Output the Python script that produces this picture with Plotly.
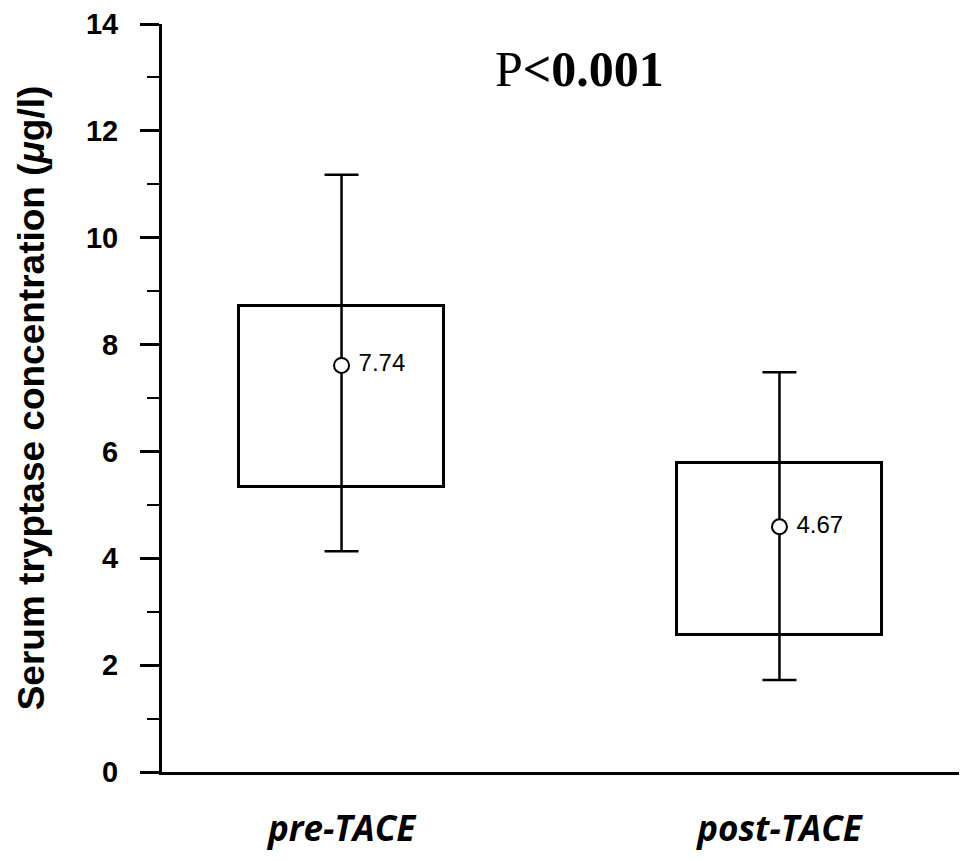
import plotly.graph_objects as go

# Data
categories = ["pre-TACE", "post-TACE"]
x_pos = [0, 1]
box_low = [5.34, 2.57]
box_high = [8.72, 5.79]
whisker_low = [4.13, 1.72]
whisker_high = [11.18, 7.48]
center = [7.61, 4.59]
center_labels = ["7.74", "4.67"]
y_ticks = [0, 2, 4, 6, 8, 10, 12, 14]

fig = go.Figure()

fig.add_trace(go.Bar(
    x=x_pos,
    y=[h - l for h, l in zip(box_high, box_low)],
    base=box_low,
    width=0.47,
    marker=dict(color="white", line=dict(color="black", width=3)),
    showlegend=False,
    hoverinfo="skip",
))

fig.add_trace(go.Scatter(
    x=x_pos,
    y=center,
    mode="markers+text",
    text=center_labels,
    texttemplate=" %{text}",
    textposition="middle right",
    textfont=dict(family="Arial, Liberation Sans", size=24, color="black"),
    marker=dict(symbol="circle", size=15, color="white", line=dict(color="black", width=2)),
    error_y=dict(
        type="data",
        symmetric=False,
        array=[h - c for h, c in zip(whisker_high, center)],
        arrayminus=[c - l for c, l in zip(center, whisker_low)],
        color="black",
        thickness=2.5,
        width=17,
    ),
    showlegend=False,
))

fig.add_annotation(
    x=0.543, y=13.16, xref="x", yref="y",
    text="P<b>&lt;0.001</b>",
    showarrow=False,
    font=dict(family="Liberation Serif, Times New Roman", size=50, color="black"),
)

fig.update_layout(
    width=969, height=861,
    margin=dict(l=154, r=18, t=16, b=97),
    paper_bgcolor="white",
    plot_bgcolor="white",
    bargap=0,
)

fig.update_xaxes(
    range=[-0.41, 1.41],
    tickvals=x_pos,
    ticktext=["<b><i>%s</i></b>" % c for c in categories],
    tickfont=dict(family="Open Sans", size=35, color="black"),
    showline=True, linewidth=3, linecolor="black",
    ticks="", showgrid=False, zeroline=False,
    ticklabelstandoff=24,
    automargin=False,
)

fig.update_yaxes(
    range=[0, 14],
    tickvals=y_ticks,
    ticktext=["<b>%d</b>" % v for v in y_ticks],
    tickfont=dict(family="Arial, Liberation Sans", size=29, color="black"),
    showline=True, linewidth=3, linecolor="black",
    ticks="outside", ticklen=19, tickwidth=2.5, tickcolor="black",
    minor=dict(dtick=1, ticks="outside", ticklen=12, tickwidth=2, tickcolor="black", showgrid=False),
    showgrid=False, zeroline=False,
    ticklabelstandoff=16,
    automargin=False,
    title=dict(
        text="<b>Serum tryptase concentration (<i>μ</i>g/l)</b>",
        font=dict(family="Arial, Liberation Sans", size=37, color="black"),
        standoff=30,
    ),
)

fig.write_html("out.html")
